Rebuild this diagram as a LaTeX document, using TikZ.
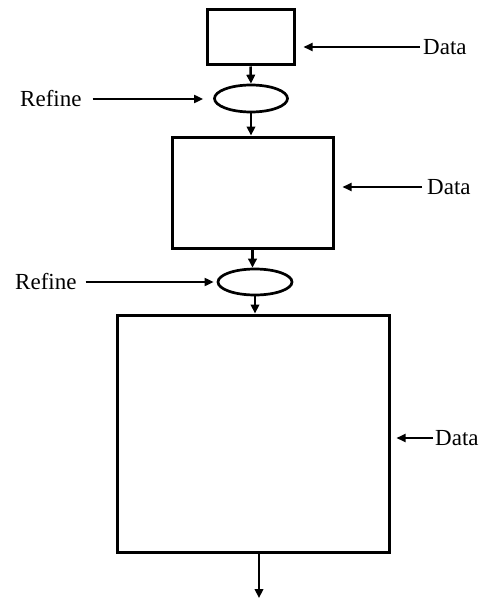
\documentclass[tikz,border=0pt]{standalone}
\usepackage{fontspec}
\setmainfont{Liberation Serif}
\usetikzlibrary{arrows.meta,shapes.geometric}
\begin{document}
\begin{tikzpicture}[x=1pt,y=-1pt,
  blk/.style={draw,line width=3pt,rectangle,inner sep=0pt},
  oval/.style={draw,line width=2.7pt,ellipse,inner sep=0pt},
  lbl/.style={inner sep=0pt,anchor=west,font=\fontsize{23}{27}\selectfont},
  flow/.style={line width=2.5pt,-{Triangle[length=9pt,width=8.5pt]}},
  feed/.style={line width=1.8pt,-{Triangle[length=9pt,width=8pt]}}]
\useasboundingbox (0,0) rectangle (484,602);
\node[blk,minimum width=87pt,minimum height=55pt] (b1) at (250.5,37.5) {};
\node[oval,minimum width=73pt,minimum height=27pt] (e1) at (251,98.5) {};
\node[blk,minimum width=161pt,minimum height=111pt] (b2) at (252.5,192.5) {};
\node[oval,minimum width=74pt,minimum height=26pt] (e2) at (255,282) {};
\node[blk,minimum width=272pt,minimum height=237pt] (b3) at (253,433.5) {};
\coordinate (out) at (259,598);
\node[lbl] (d1) at (423,47) {Data};
\node[lbl] (d2) at (427,187) {Data};
\node[lbl] (d3) at (435,438) {Data};
\node[lbl] (r1) at (20,99) {Refine};
\node[lbl] (r2) at (15,282) {Refine};
\draw[flow] (b1.south) -- (e1.north);
\draw[flow] (e1.south) -- (e1.south |- b2.north);
\draw[flow] (b2.south) -- (b2.south |- e2.north);
\draw[flow] (e2.south) -- (e2.south |- b3.north);
\draw[flow] (b3.south -| out) -- (out);
\draw[feed,shorten <=3pt,shorten >=8pt] (d1.west) -- (d1.west -| b1.east);
\draw[feed,shorten <=5pt,shorten >=8pt] (d2.west) -- (d2.west -| b2.east);
\draw[feed,shorten <=2pt,shorten >=6pt] (d3.west) -- (d3.west -| b3.east);
\draw[feed,shorten <=11pt,shorten >=10pt] (r1.east) -- (r1.east -| e1.west);
\draw[feed,shorten <=9pt,shorten >=3pt] (r2.east) -- (r2.east -| e2.west);
\end{tikzpicture}
\end{document}
